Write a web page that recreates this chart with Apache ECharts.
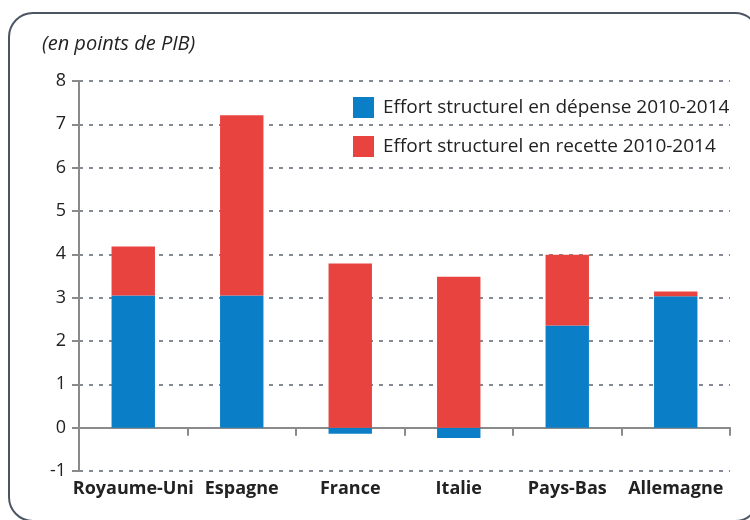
<!DOCTYPE html>
<html>
<head>
<meta charset="utf-8">
<script src="https://cdn.jsdelivr.net/npm/echarts@6/dist/echarts.min.js"></script>
<style>
  html, body { margin: 0; padding: 0; background: #fff; }
  #main { width: 750px; height: 520px; }
</style>
</head>
<body>
<div id="main"></div>
<script>
// données
let pays = ['Royaume-Uni', 'Espagne', 'France', 'Italie', 'Pays-Bas', 'Allemagne'];
let depense = [3.05, 3.05, -0.14, -0.24, 2.36, 3.03];
let recette = [1.13, 4.16, 3.79, 3.48, 1.63, 0.11];
let yTicks = [-1, 0, 1, 2, 3, 4, 5, 6, 7, 8];
let noms = ['Effort structurel en dépense 2010-2014', 'Effort structurel en recette 2010-2014'];

let police = '"Open Sans", "Noto Sans", sans-serif';
let gris = '#8a8a8a';

let myChart = echarts.init(document.getElementById('main'));
let option = {
    animation: false,
    textStyle: {fontFamily: police, color: '#222'},
    graphic: [
        {
            type: 'rect',
            shape: {x: 9, y: 13, width: 750, height: 508, r: 24},
            style: {fill: 'none', stroke: '#4b5563', lineWidth: 2},
            z: -1
        },
        {
            type: 'text',
            left: 42,
            top: 34,
            style: {text: '(en points de PIB)', font: 'italic 20px ' + police, fill: '#222'}
        }
    ],
    legend: {
        data: noms,
        orient: 'vertical',
        left: 348,
        top: 92,
        itemWidth: 21,
        itemHeight: 21,
        itemGap: 18,
        icon: 'rect',
        textStyle: {fontSize: 19, color: '#222', fontFamily: police, padding: [0, 0, 0, 4]}
    },
    grid: {left: 79, right: 20, top: 81, bottom: 49},
    xAxis: [
        {
            type: 'category',
            data: pays,
            position: 'bottom',
            axisLine: {show: false, onZero: false},
            axisTick: {show: false},
            axisLabel: {interval: 0, fontSize: 18, fontWeight: 'bold', color: '#222', margin: 9}
        },
        {
            type: 'category',
            data: pays,
            position: 'top',
            axisLine: {show: true, onZero: true, lineStyle: {color: gris, width: 2}},
            axisTick: {show: true, inside: true, length: 8, lineStyle: {color: gris, width: 2}},
            axisLabel: {show: false}
        }
    ],
    yAxis: {
        type: 'value',
        min: -1,
        max: 8,
        interval: 1,
        axisLine: {show: true, lineStyle: {color: gris, width: 2}},
        axisTick: {show: true, length: 7, lineStyle: {color: gris, width: 2}},
        axisLabel: {fontSize: 18, color: '#222', margin: 13,
            formatter: function (v) { return yTicks.indexOf(v) >= 0 ? String(v) : ''; }},
        splitLine: {show: true, lineStyle: {color: '#5b6472', width: 1.5, type: [4, 6]}}
    },
    series: [
        {
            name: noms[0],
            type: 'bar',
            stack: 'effort',
            barWidth: '40%',
            data: depense,
            itemStyle: {color: '#0a7fc8'}
        },
        {
            name: noms[1],
            type: 'bar',
            stack: 'effort',
            barWidth: '40%',
            data: recette,
            itemStyle: {color: '#e8433e'}
        }
    ]
};
myChart.setOption(option);
</script>
</body>
</html>
